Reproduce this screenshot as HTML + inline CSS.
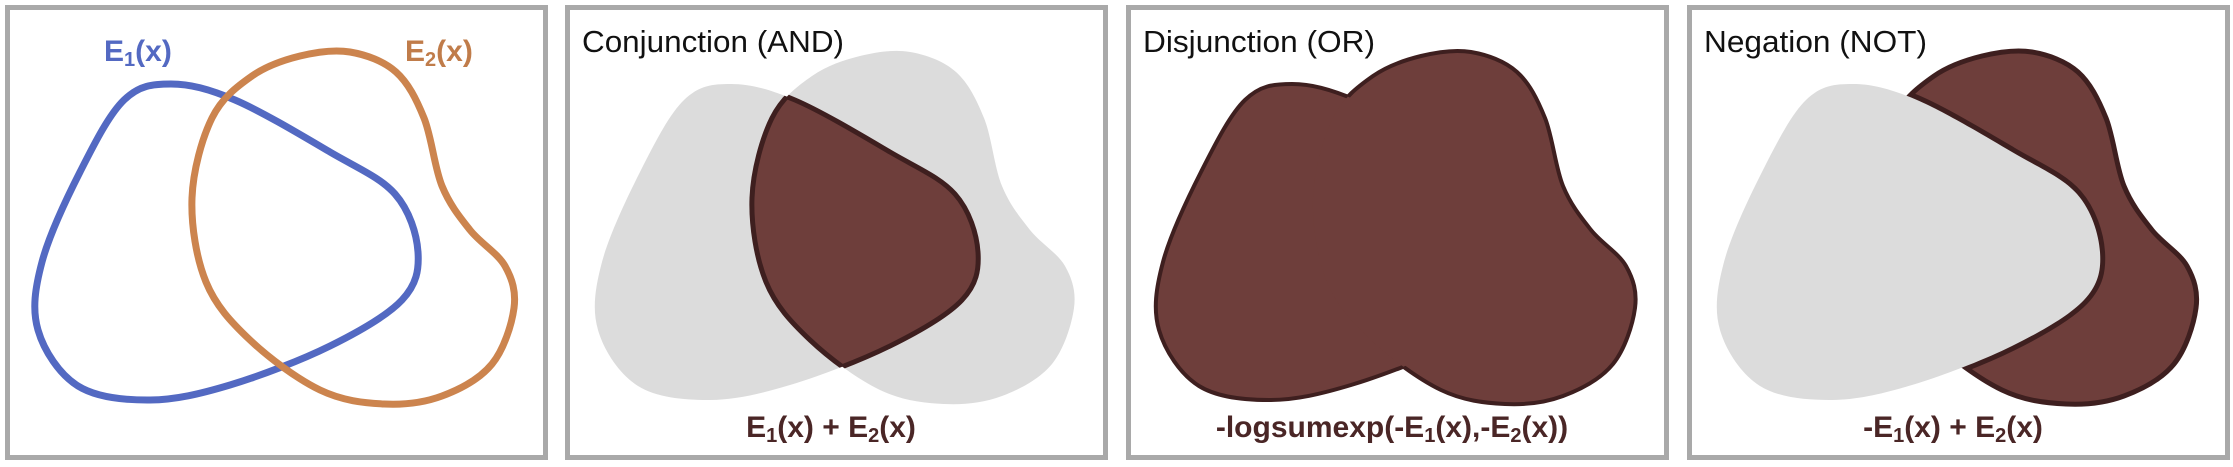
<!DOCTYPE html>
<html><head><meta charset="utf-8">
<style>
html,body{margin:0;padding:0;background:#fff;}
svg{display:block;}
text{font-family:"Liberation Sans",sans-serif;}
</style></head>
<body>
<svg id="fig" width="2233" height="467" viewBox="0 0 2233 467" xmlns="http://www.w3.org/2000/svg">
<defs id="defs"></defs>
<g id="p1"></g>
<g id="p2"></g>
<g id="p3"></g>
<g id="p4"></g>
</svg>
<script>
const blueX = [171,235,330,395,418,402,330,230,150,78,38,42,80,124];
const blueY = [84,100,152,194,252,300,346,385,400,386,330,262,172,100];
const orangeX = [300,350,396,424,442,470,505,514,492,442,384,320,250,206,192,212,252];
const orangeY = [56,52,72,118,186,230,266,308,364,396,404,390,340,282,198,118,76];
const panelOffsets = [0,560,1121,1682];
const titles = ["", "Conjunction (AND)", "Disjunction (OR)", "Negation (NOT)"];
const titleLens = [0, 262, 232, 223];

const NS = "http://www.w3.org/2000/svg";
function mk(tag, attrs, parent){const e=document.createElementNS(NS,tag);for(const k in attrs)e.setAttribute(k,attrs[k]);if(parent)parent.appendChild(e);return e;}
function smooth(xs, ys){
  const n=xs.length;let d=`M${xs[0]},${ys[0]}`;
  for(let i=0;i<n;i++){
    const p0=[xs[(i-1+n)%n],ys[(i-1+n)%n]],p1=[xs[i],ys[i]],p2=[xs[(i+1)%n],ys[(i+1)%n]],p3=[xs[(i+2)%n],ys[(i+2)%n]];
    const c1=[p1[0]+(p2[0]-p0[0])/6,p1[1]+(p2[1]-p0[1])/6];
    const c2=[p2[0]-(p3[0]-p1[0])/6,p2[1]-(p3[1]-p1[1])/6];
    d+=` C${c1[0].toFixed(1)},${c1[1].toFixed(1)} ${c2[0].toFixed(1)},${c2[1].toFixed(1)} ${p2[0]},${p2[1]}`;
  }
  return d+"Z";
}
const blueD = smooth(blueX, blueY);
const orangeD = smooth(orangeX, orangeY);
const defs = document.getElementById('defs');
mk('clipPath',{id:'clipBlue'},defs).appendChild(mk('path',{d:blueD}));
mk('clipPath',{id:'clipOrange'},defs).appendChild(mk('path',{d:orangeD}));
const mB = mk('mask',{id:'outBlue',maskUnits:'userSpaceOnUse',x:0,y:0,width:560,height:467},defs);
mk('rect',{x:0,y:0,width:560,height:467,fill:'#fff'},mB);mk('path',{d:blueD,fill:'#000'},mB);
const mO = mk('mask',{id:'outOrange',maskUnits:'userSpaceOnUse',x:0,y:0,width:560,height:467},defs);
mk('rect',{x:0,y:0,width:560,height:467,fill:'#fff'},mO);mk('path',{d:orangeD,fill:'#000'},mO);

const DARK='#6e3e3b', EDGE='#3e1f1f', GREY='#dcdcdc';
function frame(g){
  const r=mk('rect',{x:7.5,y:7.5,width:538,height:450,fill:'#fff',stroke:'#a9a9a9','stroke-width':5},g);
  
  
}
function title(g,i){
  const e=mk('text',{x:22,y:52,'font-size':31,fill:'#111',textLength:titleLens[i],lengthAdjust:'spacingAndGlyphs'},g);e.textContent=titles[i];
  
  
}
function formula(g,html){
  const e=mk('text',{x:271,y:437,'font-size':30,'font-weight':'bold',fill:'#4a2626','text-anchor':'middle'},g);
  e.innerHTML=html;
  
  
}
const sub=(n)=>`<tspan font-size="20" dy="5">${n}</tspan><tspan dy="-5">`;
const E1=`E${sub(1)}(x)</tspan>`, E2=`E${sub(2)}(x)</tspan>`;

const gs=['p1','p2','p3','p4'].map((id,i)=>{const g=document.getElementById(id);g.setAttribute('transform',`translate(${panelOffsets[i]},0)`);frame(g);return g;});

let e;
e=mk('path',{d:blueD,fill:'none',stroke:'#5369c2','stroke-width':7},gs[0]);


e=mk('path',{d:orangeD,fill:'none',stroke:'#cc844e','stroke-width':7},gs[0]);


e=mk('text',{x:104,y:61,'font-size':30,'font-weight':'bold',fill:'#5369c2'},gs[0]);e.innerHTML=E1;


e=mk('text',{x:405,y:61,'font-size':30,'font-weight':'bold',fill:'#c07c4a'},gs[0]);e.innerHTML=E2;



title(gs[1],1);
mk('path',{d:blueD,fill:GREY},gs[1]);
mk('path',{d:orangeD,fill:GREY},gs[1]);
e=mk('path',{d:blueD,fill:DARK,'clip-path':'url(#clipOrange)'},gs[1]);


mk('path',{d:blueD,fill:'none',stroke:EDGE,'stroke-width':5,'clip-path':'url(#clipOrange)'},gs[1]);
mk('path',{d:orangeD,fill:'none',stroke:EDGE,'stroke-width':5,'clip-path':'url(#clipBlue)'},gs[1]);
formula(gs[1],`${E1} + ${E2}`);

title(gs[2],2);
e=mk('path',{d:blueD,fill:DARK},gs[2]);


e=mk('path',{d:orangeD,fill:DARK},gs[2]);


mk('path',{d:blueD,fill:'none',stroke:EDGE,'stroke-width':4,mask:'url(#outOrange)'},gs[2]);
mk('path',{d:orangeD,fill:'none',stroke:EDGE,'stroke-width':4,mask:'url(#outBlue)'},gs[2]);
formula(gs[2],`-logsumexp(-${E1},-${E2})`);

title(gs[3],3);
e=mk('path',{d:orangeD,fill:DARK,stroke:EDGE,'stroke-width':5},gs[3]);


mk('path',{d:blueD,fill:'none',stroke:EDGE,'stroke-width':10,'clip-path':'url(#clipOrange)'},gs[3]);
e=mk('path',{d:blueD,fill:GREY},gs[3]);


formula(gs[3],`-${E1} + ${E2}`);
</script>
</body></html>
